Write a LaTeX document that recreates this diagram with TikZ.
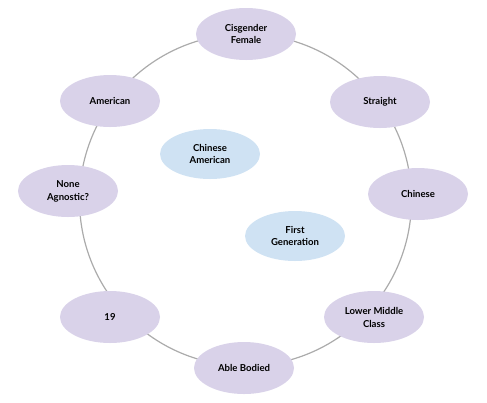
\documentclass[tikz,border=0pt]{standalone}
\usepackage{fontspec}
\setmainfont{Lato}
\usetikzlibrary{shapes.geometric}
\definecolor{lavender}{HTML}{D9D2E9}
\definecolor{paleblue}{HTML}{CFE2F3}
\definecolor{ringgray}{HTML}{ABABAB}
\tikzstyle{identity} = [
  ellipse,
  fill=lavender,
  minimum width=100bp,
  minimum height=52bp,
  inner sep=0pt,
  align=center,
  font=\fontsize{9.6}{13}\selectfont\bfseries,
]
\tikzstyle{core} = [
  identity,
  fill=paleblue,
  minimum height=50bp,
]
\tikzstyle{ring} = [
  draw=ringgray,
  line width=1.2bp,
]
\begin{document}
\begin{tikzpicture}[
    x=1bp,
    y=-1bp,
  ]
  \useasboundingbox (0,0) rectangle (487,402);
  \coordinate (centre) at (245.5,200);
  \draw[ring] (centre) circle[radius=166bp];
  \node[identity]
  (cisgender) at (246,34) {Cisgender\\Female};
  \node[identity]
  (straight) at (380,102) {Straight};
  \node[identity]
  (chinese) at (418,194) {Chinese};
  \node[identity]
  (lowermiddle) at (374,317) {Lower Middle\\Class};
  \node[identity]
  (ablebodied) at (244,368) {Able Bodied};
  \node[identity]
  (nineteen) at (110,317) {19};
  \node[identity]
  (agnostic) at (68,191) {None\\Agnostic?};
  \node[identity]
  (american) at (110,101) {American};
  \node[core]
  (chineseamerican) at (210,154) {Chinese\\American};
  \node[core]
  (firstgen) at (295,236) {First\\Generation};
\end{tikzpicture}
\end{document}
